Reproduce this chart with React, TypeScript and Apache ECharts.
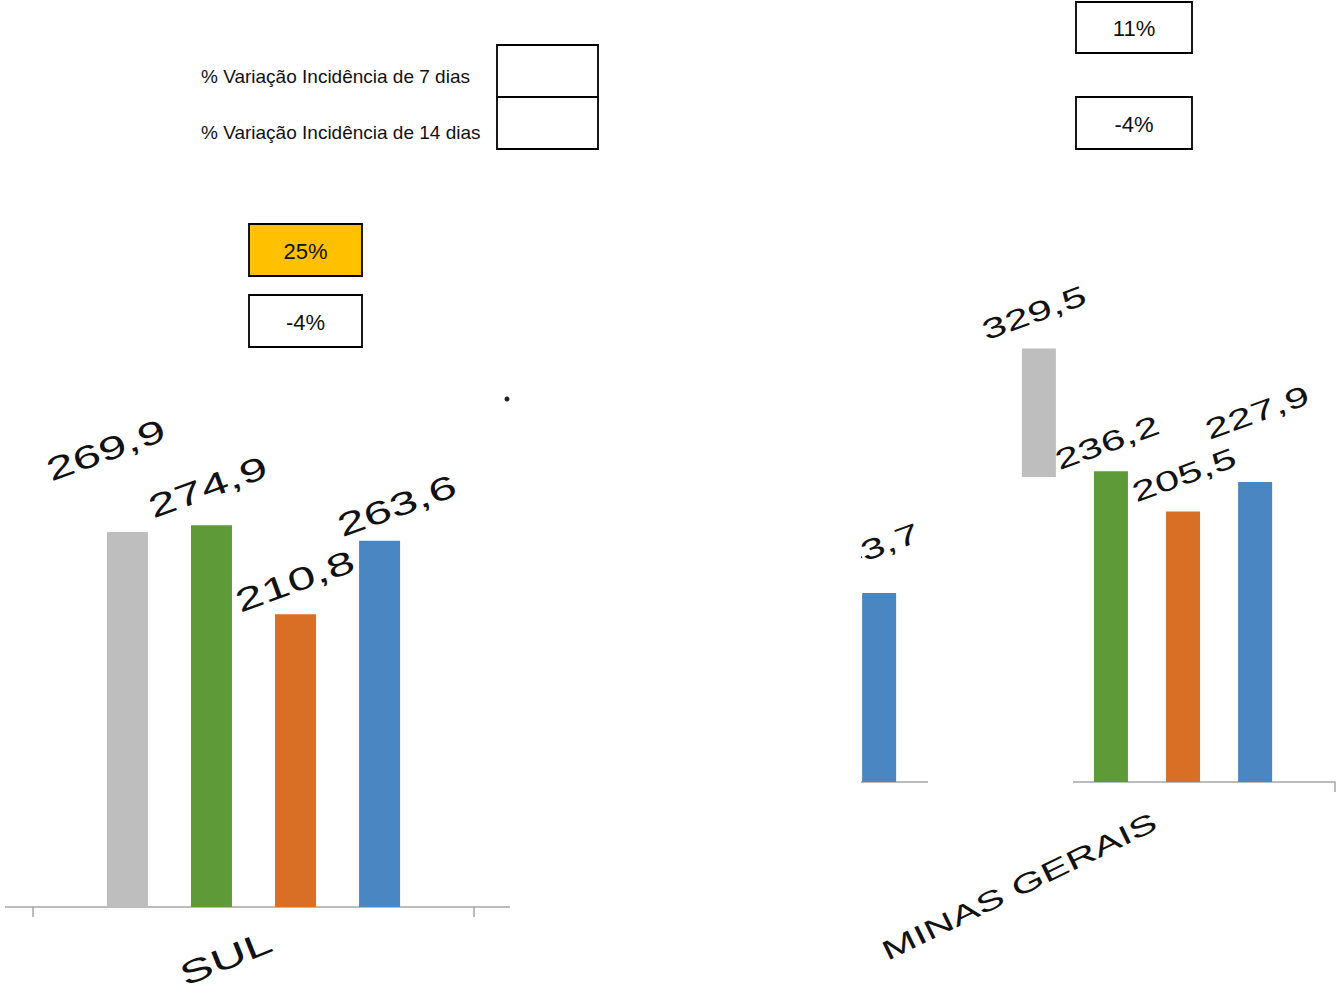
import React, { useEffect, useRef } from 'react';
import * as echarts from 'echarts';

// ---------- data ----------
const SERIES_NAMES = ['Período 1', 'Período 2', 'Período 3', 'Período 4'];

const LEFT_CATEGORIES = ['SUL'];
const LEFT_GREY = [269.9];
const LEFT_GREEN = [274.9];
const LEFT_ORANGE = [210.8];
const LEFT_BLUE = [263.6];

const RIGHT_CATEGORIES = ['', 'MINAS GERAIS'];
const RIGHT_GREY = [null, 329.5];
const RIGHT_GREEN = [null, 236.2];
const RIGHT_ORANGE = [null, 205.5];
const RIGHT_BLUE = [143.7, 227.9];

const LEGEND_7D = '% Variação Incidência de 7 dias';
const LEGEND_14D = '% Variação Incidência de 14 dias';
const LEFT_VAR_7D = '25%';
const LEFT_VAR_14D = '-4%';
const RIGHT_VAR_7D = '11%';
const RIGHT_VAR_14D = '-4%';

// ---------- styles / layout ----------
const COLORS = ['#bebebe', '#5e9b38', '#d96e25', '#4a86c1'];
const FONT = 'Liberation Sans';
const AXIS_COLOR = '#a6a6a6';
const STRETCH = 1.55;

// label offsets (px) from bar top centre, per series, per category
const LEFT_LABEL_OFFSETS = [[[-80, -61]], [[-62, -17]], [[-59, -12]], [[-41, -14]]];
const RIGHT_LABEL_OFFSETS = [
  [[0, 0], [-56, -17]],
  [[0, 0], [-55, -10]],
  [[0, 0], [-50, -18]],
  [[-63, -24], [-49, -51]],
];

const fmt = (v: number) => v.toFixed(1).replace('.', ',');

function valueLabelSeries(
  gridIdx: number,
  values: (number | null)[][],
  offsets: number[][][],
  step: number,
  fontSize: number,
  rot: number,
) {
  const items: { c: number; v: number; s: number; off: number[] }[] = [];
  values.forEach((vals, s) =>
    vals.forEach((v, c) => {
      if (v != null) items.push({ c, v, s, off: offsets[s][c] });
    }),
  );
  return {
    type: 'custom',
    xAxisIndex: gridIdx,
    yAxisIndex: gridIdx,
    silent: true,
    z: 3,
    data: items.map((it) => [it.c, it.v]),
    renderItem: (params: any, api: any) => {
      const it = items[params.dataIndex];
      const p = api.coord([api.value(0), api.value(1)]);
      return {
        type: 'text',
        x: p[0] + (it.s - 1.5) * step + it.off[0],
        y: p[1] + it.off[1],
        rotation: (rot * Math.PI) / 180,
        scaleX: STRETCH,
        style: {
          text: fmt(it.v),
          fontSize,
          fontFamily: FONT,
          fill: '#111',
          align: 'left',
          verticalAlign: 'middle',
        },
      };
    },
  };
}

function categoryLabelSeries(
  gridIdx: number,
  cats: string[],
  offset: number[],
  fontSize: number,
  rot: number,
) {
  const items = cats.map((name, c) => ({ name, c })).filter((d) => d.name !== '');
  return {
    type: 'custom',
    xAxisIndex: gridIdx,
    yAxisIndex: gridIdx,
    silent: true,
    z: 3,
    data: items.map((it) => [it.c, 0]),
    renderItem: (params: any, api: any) => {
      const it = items[params.dataIndex];
      const p = api.coord([api.value(0), 0]);
      return {
        type: 'text',
        x: p[0] + offset[0],
        y: p[1] + offset[1],
        rotation: (rot * Math.PI) / 180,
        scaleX: STRETCH,
        style: {
          text: it.name,
          fontSize,
          fontFamily: FONT,
          fill: '#111',
          align: 'right',
          verticalAlign: 'middle',
        },
      };
    },
  };
}

function barSeries(gridIdx: number, values: (number | null)[][], barWidth: number, gap: string) {
  return values.map((vals, s) => ({
    type: 'bar',
    name: SERIES_NAMES[s],
    xAxisIndex: gridIdx,
    yAxisIndex: gridIdx,
    data: vals,
    barWidth,
    barGap: gap,
    itemStyle: { color: COLORS[s] },
    label: { show: false },
  }));
}

function box(x: number, y: number, w: number, h: number, text: string, fill = '#fff') {
  return [
    {
      type: 'rect',
      z: 100,
      shape: { x, y, width: w, height: h },
      style: { fill, stroke: '#000', lineWidth: 1.8 },
    },
    {
      type: 'text',
      z: 101,
      x: x + w / 2,
      y: y + h / 2 + 1,
      style: {
        text,
        fontSize: 22,
        fontFamily: FONT,
        fill: '#111',
        align: 'center',
        verticalAlign: 'middle',
      },
    },
  ];
}

export default function App() {
  const ref = useRef<HTMLDivElement>(null);

  useEffect(() => {
    if (!ref.current) return;
    const chart = echarts.init(ref.current, undefined, { renderer: 'svg' });

    const leftValues = [LEFT_GREY, LEFT_GREEN, LEFT_ORANGE, LEFT_BLUE];
    const rightValues = [RIGHT_GREY, RIGHT_GREEN, RIGHT_ORANGE, RIGHT_BLUE];

    const axisCommon = {
      type: 'category',
      axisLine: { show: true, lineStyle: { color: AXIS_COLOR, width: 1.5 } },
      axisTick: { show: true, length: 10, lineStyle: { color: AXIS_COLOR, width: 1.5 } },
      axisLabel: { show: false },
      splitLine: { show: false },
    };

    const option: any = {
      animation: false,
      backgroundColor: '#fff',
      grid: [
        { left: 33, width: 441, top: 351.4, height: 555.6 },
        { left: 583, width: 752, top: 255.6, height: 526.4 },
      ],
      xAxis: [
        { ...axisCommon, gridIndex: 0, data: LEFT_CATEGORIES },
        { ...axisCommon, gridIndex: 1, data: RIGHT_CATEGORIES },
      ],
      yAxis: [
        { type: 'value', gridIndex: 0, min: 0, max: 400, show: false },
        { type: 'value', gridIndex: 1, min: 0, max: 400, show: false },
      ],
      series: [
        ...barSeries(0, leftValues, 41, '105%'),
        ...barSeries(1, rightValues, 34, '112%'),
        valueLabelSeries(0, leftValues, LEFT_LABEL_OFFSETS, 84, 32, 20),
        valueLabelSeries(1, rightValues, RIGHT_LABEL_OFFSETS, 72, 28, 20),
        categoryLabelSeries(0, LEFT_CATEGORIES, [17, 33], 32, 22),
        categoryLabelSeries(1, RIGHT_CATEGORIES, [8, 38], 27, 26),
      ],
      graphic: [
        // covers hiding parts of the right chart (cropped collage)
        { type: 'rect', z: 50, shape: { x: 511, y: 0, width: 350, height: 994 }, style: { fill: '#fff' } },
        { type: 'rect', z: 50, shape: { x: 928, y: 477, width: 145, height: 323 }, style: { fill: '#fff' } },
        // axis line extensions of the left chart
        { type: 'line', z: 60, shape: { x1: 5, y1: 907, x2: 33, y2: 907 }, style: { stroke: AXIS_COLOR, lineWidth: 1.5 } },
        { type: 'line', z: 60, shape: { x1: 474, y1: 907, x2: 510, y2: 907 }, style: { stroke: AXIS_COLOR, lineWidth: 1.5 } },
        { type: 'circle', z: 60, shape: { cx: 507, cy: 399, r: 2.5 }, style: { fill: '#222' } },
        // legend
        {
          type: 'text', z: 101, x: 201, y: 76,
          style: { text: LEGEND_7D, fontSize: 19, fontFamily: FONT, fill: '#111', align: 'left', verticalAlign: 'middle' },
        },
        {
          type: 'text', z: 101, x: 201, y: 132,
          style: { text: LEGEND_14D, fontSize: 19, fontFamily: FONT, fill: '#111', align: 'left', verticalAlign: 'middle' },
        },
        ...box(497, 45, 101, 52, ''),
        ...box(497, 97, 101, 52, ''),
        ...box(249, 224, 113, 52, LEFT_VAR_7D, '#ffc000'),
        ...box(249, 295, 113, 52, LEFT_VAR_14D),
        ...box(1076, 2, 116, 51, RIGHT_VAR_7D),
        ...box(1076, 97, 116, 52, RIGHT_VAR_14D),
      ],
    };

    chart.setOption(option);
    return () => chart.dispose();
  }, []);

  return (
    <div
      ref={ref}
      style={{ position: 'fixed', left: 0, top: 0, width: 1340, height: 994, background: '#fff' }}
    />
  );
}
